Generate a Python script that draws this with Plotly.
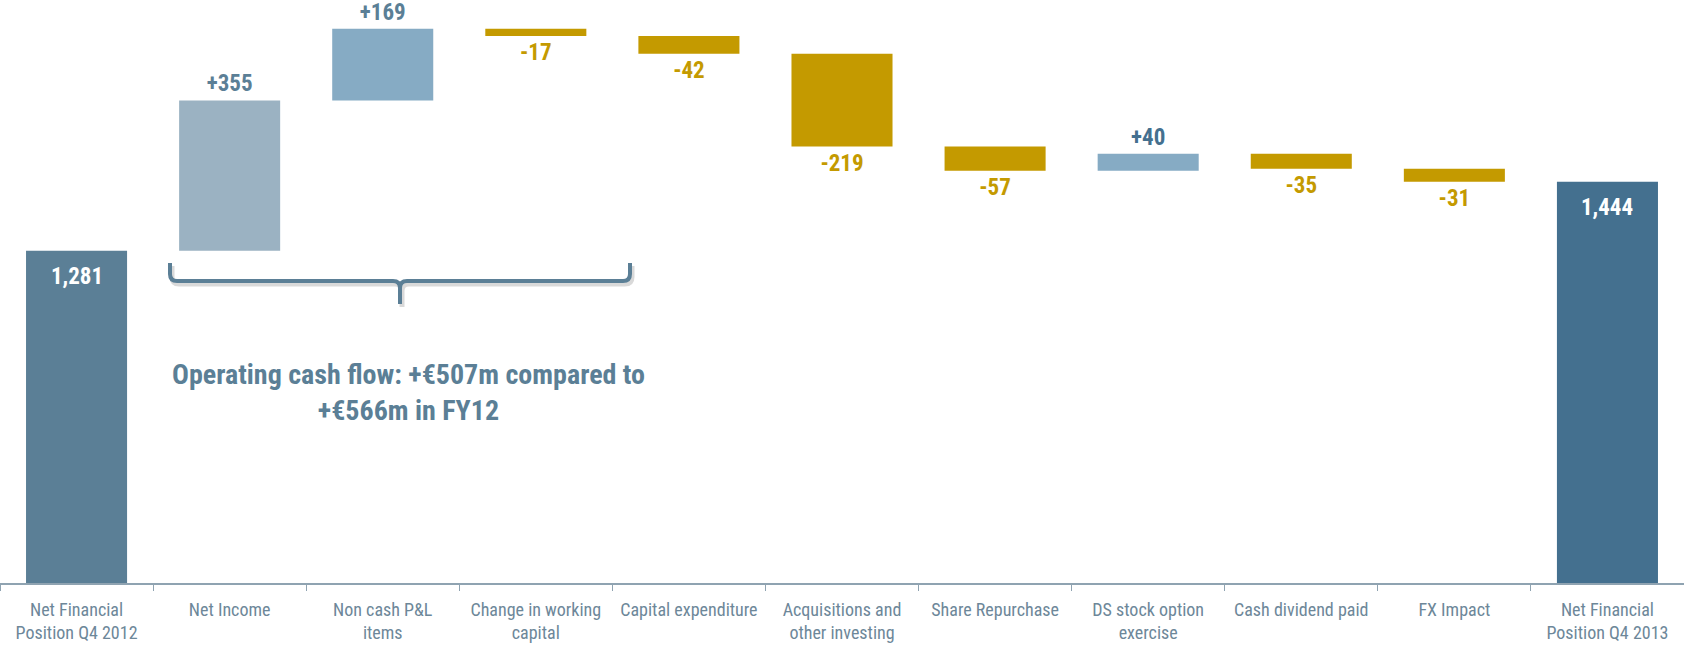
import plotly.graph_objects as go

# ---- data ----
categories = [
    "Net Financial<br>Position Q4 2012", "Net Income", "Non cash P&L<br>items",
    "Change in working<br>capital", "Capital expenditure", "Acquisitions and<br>other investing",
    "Share Repurchase", "DS stock option<br>exercise", "Cash dividend paid", "FX Impact",
    "Net Financial<br>Position Q4 2013",
]
values = [1281, 355, 169, -17, -42, -219, -57, 40, -35, -31, 1444]
is_total = [True, False, False, False, False, False, False, False, False, False, True]
note_lines = ["Operating cash flow: +€507m compared to", "+€566m in FY12"]

# ---- styles ----
bar_colors = ["#5B7F96", "#9BB2C2", "#86ABC4", "#C49A00", "#C49A00", "#C49A00",
              "#C49A00", "#86ABC4", "#C49A00", "#C49A00", "#44708F"]
text_colors = ["#FFFFFF", "#5B7F96", "#5B7F96", "#C49A00", "#C49A00", "#C49A00",
               "#C49A00", "#44708F", "#C49A00", "#C49A00", "#FFFFFF"]
FONT = "Liberation Sans Narrow, Arial Narrow, Roboto Condensed, Liberation Sans, Arial, sans-serif"

# running waterfall
bases, heights, texts = [], [], []
total_annots = []
level = 0
for cat, v, tot, tc in zip(categories, values, is_total, text_colors):
    if tot:
        bases.append(0)
        heights.append(v)
        level = v
        texts.append("")
        total_annots.append(dict(
            x=cat, y=v, xref="x", yref="y", text=f"<b>{v:,}</b>", showarrow=False,
            yanchor="top", yshift=-10,
            font=dict(family=FONT, size=23, color=tc)))
    else:
        bases.append(level)
        heights.append(v)
        level += v
        texts.append(f"<b>{v:+d}</b>")

W, H = 1684, 645
MB = 62
PLOT_H = H - MB

fig = go.Figure(go.Bar(
    x=categories, y=heights, base=bases,
    marker=dict(color=bar_colors, line=dict(width=0)),
    text=texts, textposition="outside",
    textfont=dict(family=FONT, size=23, color=text_colors),
    cliponaxis=False, width=0.66, hoverinfo="skip",
))


def px(xp):
    return xp / W


def py(yp):
    return (PLOT_H - yp) / PLOT_H


# curly brace
L, R, M = 170, 630, 400
yt, yh, yb = 263, 281, 304
r = 7


def brace(dx=0, dy=0):
    def P(x, y):
        return f"{px(x+dx):.5f},{py(y+dy):.5f}"
    return (f"M {P(L, yt)} L {P(L, yh-r)} Q {P(L, yh)} {P(L+r, yh)} "
            f"L {P(M-r, yh)} Q {P(M, yh)} {P(M, yh+r)} L {P(M, yb)} "
            f"M {P(M, yh+r)} Q {P(M, yh)} {P(M+r, yh)} "
            f"L {P(R-r, yh)} Q {P(R, yh)} {P(R, yh-r)} L {P(R, yt)}")

shapes = [
    dict(type="path", xref="paper", yref="paper", path=brace(2, 3),
         line=dict(color="rgba(0,0,0,0.15)", width=5), layer="below"),
    dict(type="path", xref="paper", yref="paper", path=brace(),
         line=dict(color="#5B7F96", width=4)),
]

annotations = total_annots + [dict(
    xref="paper", yref="paper", x=px(408), y=py(392),
    text="<b>" + "<br>".join(note_lines) + "</b>", showarrow=False,
    font=dict(family=FONT, size=28, color="#5B7F96"), align="center",
    xanchor="center", yanchor="middle",
)]

fig.update_layout(
    width=W, height=H,
    margin=dict(l=0, r=0, t=0, b=MB),
    paper_bgcolor="white", plot_bgcolor="white",
    showlegend=False,
    bargap=0.34,
    shapes=shapes,
    annotations=annotations,
    xaxis=dict(
        range=[-0.5, 10.5], showline=True, linecolor="#8FA3B1", linewidth=2,
        ticks="outside", tickson="boundaries", ticklen=6, tickcolor="#8FA3B1",
        tickwidth=1, showgrid=False, ticklabelstandoff=9,
        tickfont=dict(family=FONT, size=18, color="#6D8799"),
    ),
    yaxis=dict(range=[497, 1873], visible=False, showgrid=False, zeroline=False),
    font=dict(family=FONT),
)

fig.write_html("out.html")
